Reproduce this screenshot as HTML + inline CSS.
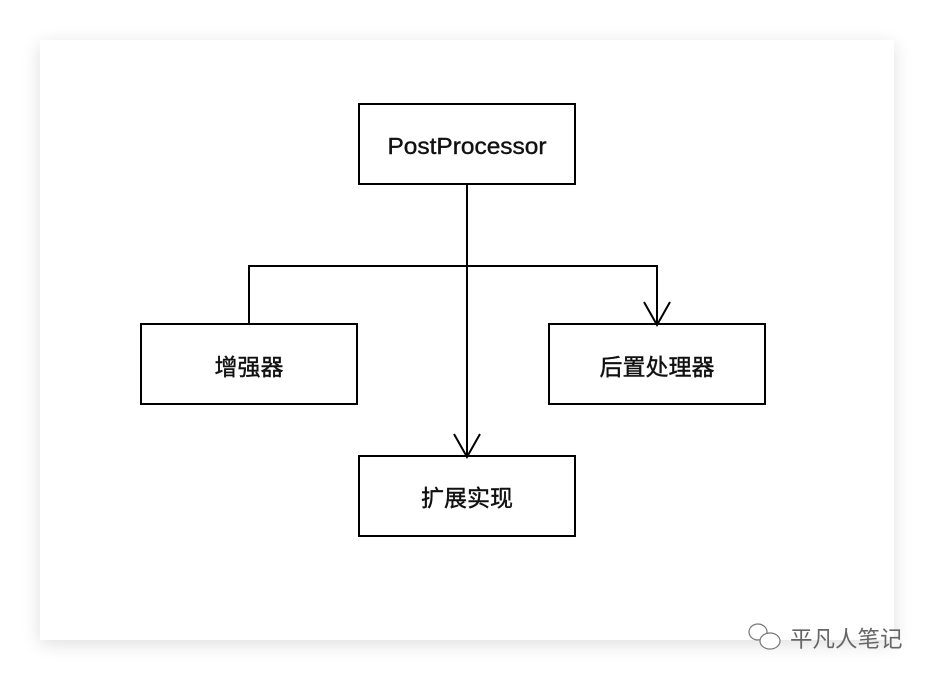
<!DOCTYPE html>
<html><head><meta charset="utf-8"><style>
html,body{margin:0;padding:0;background:#fff;width:934px;height:680px;overflow:hidden}
.card{position:absolute;left:40px;top:40px;width:854px;height:600px;background:#fff;box-shadow:0 4px 18px rgba(0,0,0,0.13)}
</style></head><body>
<div class="card"></div>
<svg style="position:absolute;left:0;top:0" width="934" height="680" xmlns="http://www.w3.org/2000/svg">
<g fill="none" stroke="#000" stroke-width="2">
<rect x="359" y="104" width="216" height="80"/>
<rect x="141" y="324" width="216" height="80"/>
<rect x="549" y="324" width="216" height="80"/>
<rect x="359" y="456" width="216" height="80"/>
<line x1="467" y1="184" x2="467" y2="456"/>
<polyline points="249,324 249,266 657,266 657,324"/>
<polyline points="454,434 467,457 480,434"/>
<polyline points="644,302 657,325 670,302"/>
</g>
<g font-family="'Liberation Sans','Noto Sans CJK SC',sans-serif" font-size="23" fill="#111" text-anchor="middle" stroke="#111" stroke-width="0.4">
<text x="467" y="154" textLength="159" lengthAdjust="spacingAndGlyphs">PostProcessor</text>
<text x="249" y="375">增强器</text>
<text x="657" y="375">后置处理器</text>
<text x="467" y="506">扩展实现</text>
</g>
<g fill="none" stroke="#777" stroke-width="1.2">
<ellipse cx="758" cy="632" rx="9" ry="8"/>
<ellipse cx="770" cy="641" rx="10" ry="8" fill="#fff"/>
</g>
<text x="790" y="647" font-family="'Liberation Sans','Noto Sans CJK SC',sans-serif" font-size="22.5" fill="#666">平凡人笔记</text>
</svg>
</body></html>
